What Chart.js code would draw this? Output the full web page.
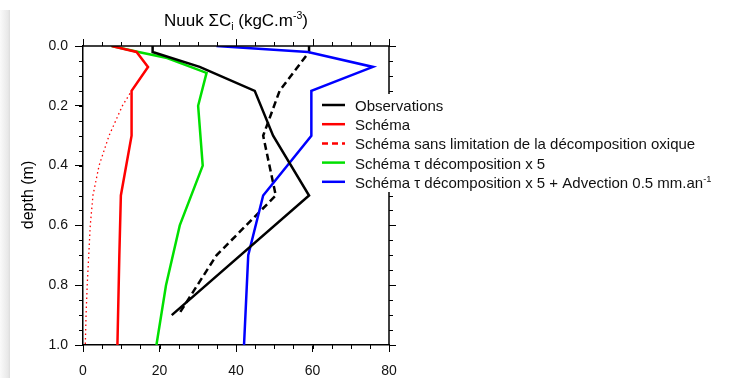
<!DOCTYPE html>
<html>
<head>
<meta charset="utf-8">
<script src="https://cdn.jsdelivr.net/npm/chart.js@4"></script>
<style>
  body { margin: 0; background: #fff; }
  #wrap { position: relative; width: 729px; height: 378px; }
  #shade { position: absolute; left: 0; top: 10px; width: 10px; height: 368px;
           background: linear-gradient(to right, #fafafa, #e8e8e8 80%, #dcdcdc); }
</style>
</head>
<body>
<div id="wrap">
  <div id="shade"></div>
  <canvas id="profil" width="729" height="378"></canvas>
</div>
<script>
// profondeurs (m) et valeurs (kgC.m-3)
const depthObs = [0, 0.02, 0.07, 0.15, 0.3, 0.5, 0.9];
const obsValues = [18.2, 18.2, 30.5, 44.9, 49.7, 59.1, 23.2];

const depthSchema = [0, 0.02, 0.07, 0.15, 0.3, 0.5, 0.7, 1.0];
const schemaValues = [7.5, 14, 17, 12.7, 12.7, 9.9, 9.5, 9.0];

const depthNoLimit = [0, 0.02, 0.07, 0.15, 0.2, 0.3, 0.4, 0.5, 0.6, 0.7, 0.8, 0.9, 1.0];
const noLimitValues = [7.5, 14, 17, 12.7, 10.3, 6.8, 4.2, 2.6, 1.9, 1.5, 1.1, 0.8, 0.6];

const depthTau = [0, 0.02, 0.04, 0.09, 0.2, 0.4, 0.6, 0.8, 1.0];
const tauValues = [7.5, 14.5, 22, 32.3, 30.1, 31.3, 25.3, 21.7, 19.2];

const depthAdv = [0, 0.02, 0.07, 0.15, 0.3, 0.5, 0.7, 1.0];
const advValues = [34.9, 58.8, 75.8, 59.7, 59.7, 47.1, 43.2, 42.1];

// courbe noire tiretée (comme sur la figure)
const depthObsDash = [0, 0.02, 0.15, 0.3, 0.5, 0.7, 0.9];
const obsDashValues = [59.1, 59.1, 51.4, 47.1, 50.4, 34.9, 24.9];

const xTicks = [0, 20, 40, 60, 80];
const yTicks = [0, 0.2, 0.4, 0.6, 0.8, 1.0];

const legendLabels = [
  'Observations',
  'Schéma',
  'Schéma sans limitation de la décomposition oxique',
  'Schéma τ décomposition x 5',
  'Schéma τ décomposition x 5 + Advection 0.5 mm.an'
];

const FONT = '"Liberation Sans", Arial, Helvetica, sans-serif';

function points(depths, values) {
  return values.map((v, i) => ({ x: v, y: depths[i] }));
}

// texte avec indices / exposants
function drawRich(ctx, parts, x, y, size, align) {
  let total = 0;
  parts.forEach(p => {
    ctx.font = (p.sub || p.sup ? size * 0.62 : size) + 'px ' + FONT;
    total += ctx.measureText(p.t).width;
  });
  let cx = align === 'center' ? x - total / 2 : x;
  parts.forEach(p => {
    const s = p.sub || p.sup ? size * 0.62 : size;
    ctx.font = s + 'px ' + FONT;
    let dy = 0;
    if (p.sub) dy = size * 0.22;
    if (p.sup) dy = -size * 0.42;
    ctx.fillText(p.t, cx, y + dy);
    cx += ctx.measureText(p.t).width;
  });
}

const decor = {
  id: 'decor',
  afterDraw(chart) {
    const ctx = chart.ctx;
    const a = chart.chartArea;
    const xs = chart.scales.x;
    const ys = chart.scales.y;
    ctx.save();
    ctx.strokeStyle = '#000';
    ctx.lineWidth = 1.5;
    // cadre haut et droite
    ctx.beginPath();
    ctx.moveTo(a.left, a.top); ctx.lineTo(a.right, a.top);
    ctx.moveTo(a.right, a.top); ctx.lineTo(a.right, a.bottom);
    ctx.stroke();

    ctx.lineWidth = 1;
    ctx.beginPath();
    for (let v = 0; v <= 80; v += 5) {
      const px = Math.round(xs.getPixelForValue(v)) + 0.5;
      const major = v % 20 === 0;
      ctx.moveTo(px, a.bottom); ctx.lineTo(px, a.bottom + 4);
      ctx.moveTo(px, a.top); ctx.lineTo(px, a.top - (major ? 7 : 4));
    }
    for (let k = 0; k <= 20; k++) {
      const py = Math.round(ys.getPixelForValue(k * 0.05)) + 0.5;
      const major = k % 4 === 0;
      ctx.moveTo(a.left - 4, py); ctx.lineTo(a.left, py);
      ctx.moveTo(a.right, py); ctx.lineTo(a.right + (major ? 7 : 4), py);
    }
    ctx.stroke();

    // titre
    ctx.fillStyle = '#000';
    ctx.textBaseline = 'alphabetic';
    drawRich(ctx, [
      { t: 'Nuuk ΣC' }, { t: 'i', sub: true }, { t: ' (kgC.m' }, { t: '-3', sup: true }, { t: ')' }
    ], (a.left + a.right) / 2, 26, 17, 'center');

    // titre axe y
    ctx.save();
    ctx.translate(33, 195);
    ctx.rotate(-Math.PI / 2);
    ctx.font = '16px ' + FONT;
    ctx.textAlign = 'center';
    ctx.fillText('depth (m)', 0, 0);
    ctx.restore();

    // légende (fond blanc qui masque le cadre)
    ctx.fillStyle = '#fff';
    ctx.fillRect(318, 94, 729 - 318, 98);
    const styles = chart.data.datasets;
    [0, 1, 2, 3, 4].forEach((di, i) => {
      const ly = 105 + i * 19.2;
      const ds = styles[di];
      ctx.strokeStyle = ds.borderColor;
      ctx.lineWidth = 2.5;
      ctx.setLineDash(di === 2 ? [6, 4] : []);
      ctx.beginPath();
      ctx.moveTo(322, ly); ctx.lineTo(345, ly);
      ctx.stroke();
      ctx.setLineDash([]);
      ctx.fillStyle = '#111';
      const parts = [{ t: legendLabels[i] }];
      if (i === 4) parts.push({ t: '-1', sup: true });
      drawRich(ctx, parts, 355, ly + 6, 15, 'left');
    });
    ctx.restore();
  }
};

const ctx = document.getElementById('profil').getContext('2d');

new Chart(ctx, {
  type: 'scatter',
  data: {
    datasets: [
      { label: legendLabels[0], data: points(depthObs, obsValues), borderColor: '#000000' },
      { label: legendLabels[1], data: points(depthSchema, schemaValues), borderColor: '#ff0000' },
      { label: legendLabels[2], data: points(depthNoLimit, noLimitValues), borderColor: '#ff0000',
        borderWidth: 1.3, borderDash: [1.5, 3] },
      { label: legendLabels[3], data: points(depthTau, tauValues), borderColor: '#00e000' },
      { label: legendLabels[4], data: points(depthAdv, advValues), borderColor: '#0000ff' },
      { label: 'obs-dash', data: points(depthObsDash, obsDashValues), borderColor: '#000000',
        borderDash: [7, 4] }
    ].map(d => Object.assign({
      showLine: true,
      pointRadius: 0,
      borderWidth: 2.5,
      fill: false,
      tension: 0
    }, d))
  },
  options: {
    responsive: false,
    animation: false,
    layout: { padding: { top: 46, right: 340, left: 0, bottom: 0 } },
    scales: {
      x: {
        type: 'linear',
        position: 'bottom',
        min: 0,
        max: 80,
        afterFit: s => { s.height = 33; },
        afterBuildTicks: s => { s.ticks = xTicks.map(v => ({ value: v })); },
        ticks: { color: '#111', font: { size: 14, family: FONT }, padding: 11 },
        grid: { drawOnChartArea: false, drawTicks: true, tickLength: 7, color: '#000', lineWidth: 1 },
        border: { display: true, color: '#000', width: 1.5 }
      },
      y: {
        type: 'linear',
        reverse: true,
        min: 0,
        max: 1,
        afterFit: s => { s.width = 83; },
        afterBuildTicks: s => { s.ticks = yTicks.map(v => ({ value: v })); },
        ticks: {
          color: '#111',
          font: { size: 14, family: FONT },
          padding: 7,
          callback: v => v.toFixed(1)
        },
        grid: { drawOnChartArea: false, drawTicks: true, tickLength: 8, color: '#000', lineWidth: 1 },
        border: { display: true, color: '#000', width: 1.5 }
      }
    },
    plugins: {
      legend: { display: false },
      tooltip: { enabled: false }
    }
  },
  plugins: [decor]
});
</script>
</body>
</html>
